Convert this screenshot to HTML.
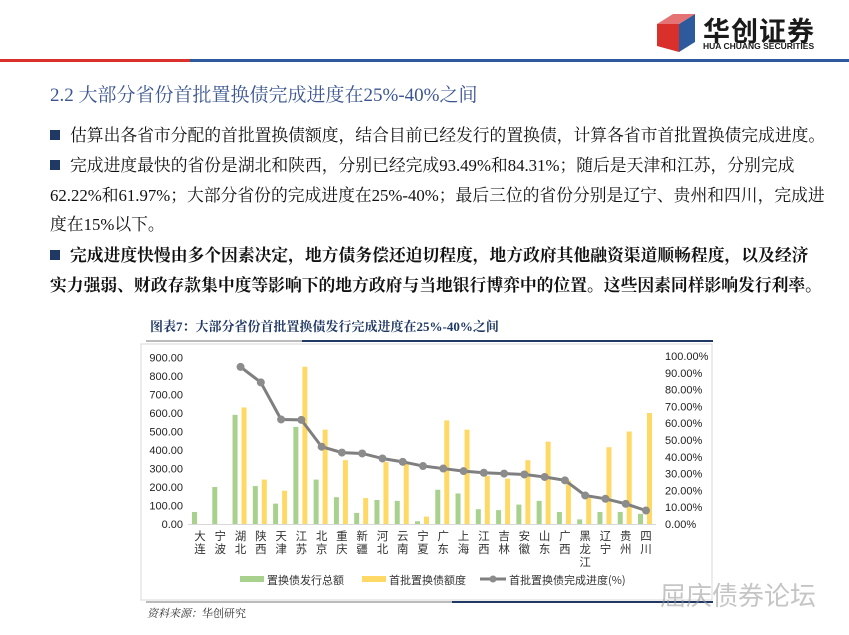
<!DOCTYPE html>
<html><head><meta charset="utf-8">
<style>
body{margin:0;width:849px;height:635px;background:#fff;position:relative;overflow:hidden;font-family:"Liberation Serif","Noto Serif CJK SC",serif;}
.abs{position:absolute;white-space:nowrap;}
.p{font-size:16.8px;color:#111;left:50px;}
.sq{display:inline-block;width:10px;height:10px;background:#1f3864;margin-right:10px;vertical-align:1px;}
</style></head><body>
<div class="abs" style="left:0;top:59px;width:190px;height:3px;background:#d9302c"></div>
<div class="abs" style="left:190px;top:59px;width:659px;height:3px;background:#2c5a9c"></div>
<div class="abs" style="left:657px;top:12px;width:40px;height:40px;">
<svg width="40" height="40"><polygon points="0,12 22,12 22,40 0,34" fill="#d9302c"/><polygon points="22,12 38,2 38,30 22,40" fill="#2c5a9c"/><polygon points="0,12 16,2 38,2 22,12" fill="#e57373"/></svg></div>
<div class="abs" style="left:703px;top:10px;font:bold 27px 'Noto Sans CJK SC',sans-serif;color:#1a1a1a;letter-spacing:1px">华创证券</div>
<div class="abs" style="left:703px;top:41px;font:bold 8.5px 'Liberation Sans',sans-serif;color:#1a1a1a">HUA CHUANG SECURITIES</div>
<div class="abs" style="left:50px;top:80px;font-size:19px;color:#3a5590">2.2 大部分省份首批置换债完成进度在25%-40%之间</div>
<div class="abs p" style="top:122px"><span class="sq"></span>估算出各省市分配的首批置换债额度，结合目前已经发行的置换债，计算各省市首批置换债完成进度。</div>
<div class="abs p" style="top:152px"><span class="sq"></span>完成进度最快的省份是湖北和陕西，分别已经完成93.49%和84.31%；随后是天津和江苏，分别完成</div>
<div class="abs p" style="top:182px">62.22%和61.97%；大部分省份的完成进度在25%-40%；最后三位的省份分别是辽宁、贵州和四川，完成进</div>
<div class="abs p" style="top:211px">度在15%以下。</div>
<div class="abs p" style="top:242px;font-weight:bold"><span class="sq"></span>完成进度快慢由多个因素决定，地方债务偿还迫切程度，地方政府其他融资渠道顺畅程度，以及经济</div>
<div class="abs p" style="top:272px;font-weight:bold">实力强弱、财政存款集中度等影响下的地方政府与当地银行博弈中的位置。这些因素同样影响发行利率。</div>
<div class="abs" style="left:150px;top:316px;font-size:13px;font-weight:bold;color:#1f3864">图表7：大部分省份首批置换债发行完成进度在25%-40%之间</div>
<div class="abs" style="left:146px;top:340px;width:156px;height:2px;background:#bbb"></div>
<div class="abs" style="left:302px;top:340px;width:411px;height:2px;background:#1f3864"></div>
<div class="abs" style="left:146px;top:601px;width:306px;height:2px;background:#bbb"></div>
<div class="abs" style="left:452px;top:601px;width:261px;height:2px;background:#1f3864"></div>
<div class="abs" style="left:147px;top:605px;font-size:11px;color:#333"><i>资料来源：</i>华创研究</div>
<svg class="abs" id="chart" style="left:0;top:0" width="849" height="635"></svg>
<div class="abs" style="left:660px;top:576px;font:26px 'Noto Sans CJK SC',sans-serif;color:rgba(150,150,150,0.55)">屈庆债券论坛</div>
<script>
const categories=["大连","宁波","湖北","陕西","天津","江苏","北京","重庆","新疆","河北","云南","宁夏","广东","上海","江西","吉林","安徽","山东","广西","黑龙江","辽宁","贵州","四川"];
const issued=[65,200,590,205,110,525,240,145,60,130,125,15,185,165,80,75,105,125,65,25,65,65,55];
const quota=[0,0,630,240,180,850,510,345,140,335,330,40,560,510,260,245,345,445,235,150,415,500,600];
const progress=[null,null,93.49,84.31,62.22,61.97,46,42.5,42,39,37,34.5,33,31.5,30.5,30,29.5,28,26,17,15,12,8];
const leftTicks=[0,100,200,300,400,500,600,700,800,900];
const rightTicks=[0,10,20,30,40,50,60,70,80,90,100];
const svg=document.getElementById('chart');
const NS='http://www.w3.org/2000/svg';
function mk(t,a,p){const e=document.createElementNS(NS,t);for(const k in a)e.setAttribute(k,a[k]);(p||svg).appendChild(e);return e;}
const y0=524,yTop=357.5;
const yL=v=>y0-(v/900)*(y0-yTop);
const yR=v=>y0-(v/100)*(y0-356);
const x0=200,step=(646-200)/22;
const xc=i=>x0+i*step;
const frame=mk('rect',{x:141,y:344,width:571,height:256,fill:'none',stroke:'#d9d9d9'});

mk('line',{x1:188,x2:656,y1:y0+0.5,y2:y0+0.5,stroke:'#d9d9d9'});
leftTicks.forEach(v=>{const t=mk('text',{x:183,y:yL(v)+4,'text-anchor':'end','font-size':11,'font-family':'Liberation Sans',fill:'#222'});t.textContent=v.toFixed(2);
});
rightTicks.forEach(v=>{const t=mk('text',{x:665,y:yR(v)+4,'font-size':11,'font-family':'Liberation Sans',fill:'#222'});t.textContent=v.toFixed(2)+'%';
});
categories.forEach((c,i)=>{
 const g=mk('rect',{x:xc(i)-8,y:yL(issued[i]),width:5,height:y0-yL(issued[i]),fill:'#a9d18e'});
 
 if(quota[i]>0){const q=mk('rect',{x:xc(i)+1,y:yL(quota[i]),width:5,height:y0-yL(quota[i]),fill:'#ffd966'});
 }
 [...c].forEach((ch,j)=>{const t=mk('text',{x:xc(i),y:540+j*13,'text-anchor':'middle','font-size':11.5,'font-family':'Noto Sans CJK SC,sans-serif',fill:'#333'});t.textContent=ch;
 });
});
let d='';progress.forEach((v,i)=>{if(v==null)return;d+=(d?'L':'M')+xc(i)+','+yR(v);});
const ln=mk('path',{d:d,fill:'none',stroke:'#7f7f7f','stroke-width':3});

progress.forEach((v,i)=>{if(v==null)return;const c=mk('circle',{cx:xc(i),cy:yR(v),r:4,fill:'#8c8c8c'});
});
const lg=[[240,'#a9d18e','置换债发行总额'],[362,'#ffd966','首批置换债额度']];
lg.forEach(l=>{const r=mk('rect',{x:l[0],y:576,width:24,height:6,fill:l[1]});
const t=mk('text',{x:l[0]+27,y:584,'font-size':11,'font-family':'Noto Sans CJK SC,sans-serif',fill:'#333'});t.textContent=l[2];});
mk('line',{x1:480,x2:506,y1:579,y2:579,stroke:'#7f7f7f','stroke-width':3});
mk('circle',{cx:493,cy:579,r:3.5,fill:'#8c8c8c'});
const lt=mk('text',{x:509,y:584,'font-size':11,'font-family':'Noto Sans CJK SC,sans-serif',fill:'#333'});lt.textContent='首批置换债完成进度(%)';

</script>
</body></html>
